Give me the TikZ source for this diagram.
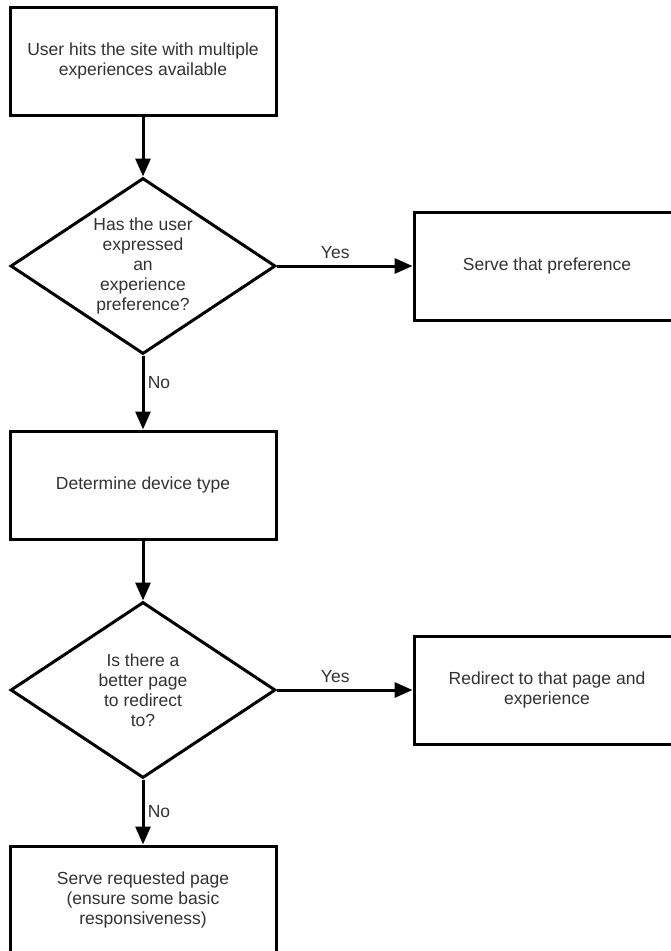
\documentclass[tikz,border=0pt]{standalone}
\usepackage{fontspec}
\setmainfont{Liberation Sans}
\definecolor{fcText}{RGB}{50,50,50}
\usetikzlibrary{shapes.geometric,arrows.meta,positioning}

\tikzset{
    stepbox/.style={draw=black, line width=3pt, minimum width=266pt, minimum height=108pt,
        align=center, text=fcText, font=\fontsize{17.5}{20}\selectfont},
    decision/.style={draw=black, diamond, aspect=1.5, line width=3pt, inner sep=0pt,
        minimum width=265pt, minimum height=176pt,
        align=center, text=fcText, font=\fontsize{17.5}{20}\selectfont},
    flow/.style={-{Triangle[length=18pt,width=15pt]}, line width=3pt},
    answer/.style={text=fcText, font=\fontsize{17.5}{20}\selectfont}
}

\begin{document}
\begin{tikzpicture}[x=1pt, y=-1pt]
    \clip (0,0) rectangle (671,951);

    \node[stepbox]  (visit)    at (143,61)  {User hits the site with multiple\\experiences available};
    \node[decision] (haspref)  at (143,266) {Has the user\\expressed\\an\\experience\\preference?};
    \node[stepbox]  (servepref) at (547,266) {Serve that preference};
    \node[stepbox]  (device)   at (143,485) {Determine device type};
    \node[decision] (better)   at (143,690) {Is there a\\better page\\to redirect\\to?};
    \node[stepbox]  (redirect) at (547,690) {Redirect to that page and\\experience};
    \node[stepbox]  (serve)    at (143,900) {Serve requested page\\(ensure some basic\\responsiveness)};

    \draw[flow] (visit) -- (haspref);
    \draw[flow] (haspref) -- node[answer, above, pos=0.43, yshift=3pt] {Yes} (servepref);
    \draw[flow] (haspref) -- node[answer, right, pos=0.36] {No} (device);
    \draw[flow] (device) -- (better);
    \draw[flow] (better) -- node[answer, above, pos=0.43, yshift=3pt] {Yes} (redirect);
    \draw[flow] (better) -- node[answer, right, pos=0.5] {No} (serve);
\end{tikzpicture}
\end{document}
